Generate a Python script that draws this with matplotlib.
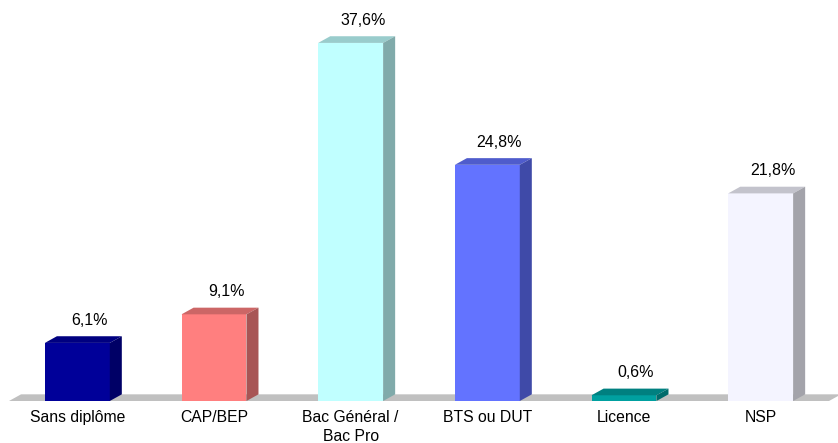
import matplotlib
matplotlib.use("Agg")
from matplotlib import pyplot as plt
from matplotlib.patches import Polygon

plt.rcParams["font.family"] = ["Liberation Sans", "DejaVu Sans"]

categories = ["Sans diplôme", "CAP/BEP", "Bac Général /\nBac Pro", "BTS ou DUT", "Licence", "NSP"]
values = [6.1, 9.1, 37.6, 24.8, 0.6, 21.8]
labels = ["6,1%", "9,1%", "37,6%", "24,8%", "0,6%", "21,8%"]

front_colors = ["#000099", "#FF7F7F", "#C0FFFF", "#6373FF", "#00A0A0", "#F4F4FF"]
top_colors = ["#000080", "#CC6666", "#99CCCC", "#4F5CCC", "#008080", "#C3C3CC"]
side_colors = ["#000066", "#A85555", "#80AAAA", "#3F4AA8", "#006B6B", "#A3A3AA"]

fig = plt.figure(figsize=(8.38, 4.43), dpi=100)
ax = fig.add_axes([9 / 838, 42 / 443, 820 / 838, 400 / 443])
ax.set_xlim(-0.5, len(categories) - 0.5)
ax.set_ylim(0, 42)
ax.axis("off")

width = 0.475
dx = 0.088   # depth offset, x (category units)
dy = 0.70    # depth offset, y (percent units)

# floor
floor = Polygon(
    [(-0.5, 0), (len(categories) - 0.5, 0),
     (len(categories) - 0.5 + dx, dy), (-0.5 + dx, dy)],
    closed=True, facecolor="#C0C0C0", edgecolor="none", clip_on=False, zorder=1,
)
ax.add_patch(floor)

for i, v in enumerate(values):
    x0 = i - width / 2
    x1 = i + width / 2
    ax.bar(i, v, width=width, color=front_colors[i], zorder=3)
    top = Polygon([(x0, v), (x1, v), (x1 + dx, v + dy), (x0 + dx, v + dy)],
                  closed=True, facecolor=top_colors[i], edgecolor="none",
                  clip_on=False, zorder=3)
    side = Polygon([(x1, 0), (x1 + dx, dy), (x1 + dx, v + dy), (x1, v)],
                   closed=True, facecolor=side_colors[i], edgecolor="none",
                   clip_on=False, zorder=3)
    ax.add_patch(top)
    ax.add_patch(side)
    ax.text(i + dx, v + dy + 0.9, labels[i], ha="center", va="bottom",
            fontsize=11.5, color="#000000", zorder=4)
    ax.text(i, -0.9, categories[i], ha="center", va="top", fontsize=11.3,
            color="#000000", linespacing=1.4, zorder=4)

fig.savefig("out.png", dpi=100)
